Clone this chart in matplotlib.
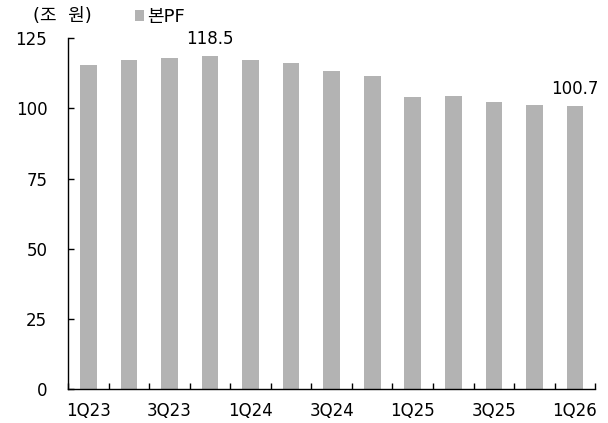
import numpy as np
import matplotlib
matplotlib.use("Agg")
from matplotlib import pyplot as plt

plt.rcParams['font.family'] = ['DejaVu Sans', 'Noto Sans CJK KR']

quarters = ['1Q23', '2Q23', '3Q23', '4Q23', '1Q24', '2Q24', '3Q24',
            '4Q24', '1Q25', '2Q25', '3Q25', '4Q25', '1Q26']
pf_values = [115.3, 117.1, 117.8, 118.5, 117.1, 116.0, 113.2,
             111.4, 104.0, 104.5, 102.1, 101.3, 100.7]
y_ticks = [0, 25, 50, 75, 100, 125]
series_name = '본PF'
unit_label = '(조 원)'
bar_color = '#b3b3b3'

fig = plt.figure(figsize=(6.08, 4.23), dpi=100)
ax = fig.add_axes([0.112, 0.080, 0.867, 0.830])

x = np.arange(len(quarters))
bars = ax.bar(x, pf_values, width=0.41, color=bar_color, label=series_name)

ax.set_xlim(-0.5, len(quarters) - 0.5)
ax.set_ylim(0, 125)
ax.set_yticks(y_ticks)

# category ticks sit between bars, labels on every other quarter
ax.set_xticks(np.arange(len(quarters) + 1) - 0.5)
ax.set_xticklabels([])
ax.set_xticks(x[::2], minor=True)
ax.set_xticklabels(quarters[::2], minor=True)
ax.tick_params(axis='x', which='major', direction='in', length=4, width=1)
ax.tick_params(axis='x', which='minor', length=0, pad=9, labelsize=12)
ax.tick_params(axis='y', direction='in', length=4, width=1, pad=15, labelsize=12)

for side in ['top', 'right']:
    ax.spines[side].set_visible(False)
for side in ['left', 'bottom']:
    ax.spines[side].set_linewidth(1)

# value labels on the peak and last quarter
for i in [3, len(quarters) - 1]:
    ax.annotate(f'{pf_values[i]:.1f}', (x[i], pf_values[i]),
                xytext=(0, 6), textcoords='offset points',
                ha='center', va='bottom', fontsize=12)

fig.text(33 / 608, 1 - 16 / 423, unit_label.replace(' ', '  '), fontsize=13,
         va='center', ha='left')
ax.legend(loc='center left', bbox_to_anchor=(135 / 608, 1 - 17 / 423),
          bbox_transform=fig.transFigure, frameon=False,
          fontsize=13, handlelength=0.5, handleheight=0.5, handletextpad=0.15,
          borderaxespad=0, borderpad=0)

fig.savefig('out.png', dpi=100)
